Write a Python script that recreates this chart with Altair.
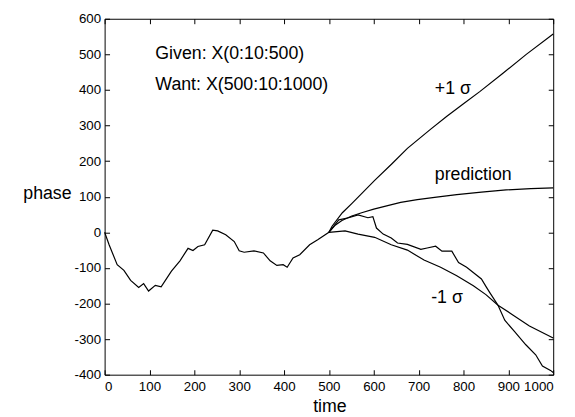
import altair as alt
import pandas as pd

# ---- data ----
actual_t = [0, 10, 28, 43, 58, 76, 87, 98, 113, 126, 149, 168, 186, 197, 208, 223, 241, 252, 270,
            289, 300, 311, 333, 354, 369, 384, 398, 407, 420, 435, 457, 475, 500,
            522, 544, 565, 587, 598, 606, 621, 639, 653, 675, 705, 719, 738, 752, 774, 789, 807,
            826, 840, 851, 859, 877, 892, 914, 939, 961, 976, 994, 1000]
actual_v = [0, -35, -91, -107, -135, -155, -144, -165, -149, -153, -109, -80, -45, -51, -40, -35, 6, 4, -7,
            -26, -52, -56, -52, -58, -80, -93, -91, -98, -72, -63, -35, -21, 0,
            35, 41, 49, 41, 44, 12, -5, -16, -30, -34, -48, -44, -39, -53, -53, -85, -98,
            -117, -131, -154, -170, -205, -247, -279, -316, -344, -376, -388, -394]

pred_t = [500, 514, 529, 551, 573, 600, 631, 660, 697, 740, 785, 840, 895, 950, 1000]
pred_v = [0, 20, 33, 46, 55, 65, 75, 84, 92, 99, 106, 113, 119, 123, 125]

plus_t = [500, 507, 530, 552, 602, 640, 675, 727, 763, 800, 837, 888, 940, 1000]
plus_v = [0, 17, 55, 82, 146, 192, 236, 290, 326, 361, 396, 447, 500, 557]

minus_t = [500, 536, 565, 602, 639, 675, 712, 749, 785, 822, 850, 877, 910, 947, 1000]
minus_v = [0, 4, -5, -14, -35, -50, -78, -98, -122, -150, -175, -205, -232, -263, -297]

note_text = ["Given: X(0:10:500)", "Want: X(500:10:1000)", "+1 σ", "prediction", "-1 σ"]
note_t = [113, 113, 736, 736, 728]
note_v = [487, 400, 390, 148, -200]

x_ticks = [0, 100, 200, 300, 400, 500, 600, 700, 800, 900, 1000]
y_ticks = [-400, -300, -200, -100, 0, 100, 200, 300, 400, 500, 600]

# ---- build table ----
rows = []
for name, ts, vs in [("actual", actual_t, actual_v), ("prediction", pred_t, pred_v),
                     ("plus", plus_t, plus_v), ("minus", minus_t, minus_v)]:
    for t, v in zip(ts, vs):
        rows.append({"series": name, "t": t, "v": v})
df = pd.DataFrame(rows)
notes = pd.DataFrame({"label": note_text, "t": note_t, "v": note_v})

W, H = 455, 361
FONT = "Liberation Sans"
xs = alt.Scale(domain=[0, 1000], nice=False, zero=False)
ys = alt.Scale(domain=[-400, 600], nice=False, zero=False)

base = alt.Chart(df)

lines = base.mark_line(color="black", strokeWidth=1.2).encode(
    x=alt.X("t:Q", scale=xs, axis=alt.Axis(
        orient="bottom", values=x_ticks, grid=False, domain=False, ticks=False, tickSize=0,
        labelExpr="'' + datum.value",
        labelPadding=5, labelFontSize=13.5, labelColor="black", labelFont=FONT,
        title="time", titleFont=FONT, titleFontSize=18, titleFontWeight="normal",
        titleColor="black", titleAlign="center", titleBaseline="alphabetic",
        titleX=228, titleY=37)),
    y=alt.Y("v:Q", scale=ys, axis=alt.Axis(
        orient="left", values=y_ticks, grid=False, domain=False, ticks=False, tickSize=0,
        labelExpr="'' + datum.value",
        labelPadding=4, labelFontSize=13.5, labelColor="black", labelFont=FONT,
        title="phase", titleFont=FONT, titleFontSize=18, titleFontWeight="normal",
        titleColor="black", titleAngle=0, titleAlign="left", titleBaseline="alphabetic",
        titleX=-83, titleY=182)),
    detail="series:N",
)

def tick_axis(orient, vals, off):
    return alt.Axis(orient=orient, values=vals, offset=off, labels=False, domain=False,
                    grid=False, ticks=True, tickSize=5, tickColor="black", tickWidth=1, title=None)

ticks_a = base.mark_line(opacity=0).encode(
    x=alt.X("t:Q", scale=xs, axis=tick_axis("top", x_ticks, -H)),
    y=alt.Y("v:Q", scale=ys, axis=tick_axis("right", y_ticks, -W)),
    detail="series:N",
)
ticks_b = base.mark_line(opacity=0).encode(
    x=alt.X("t:Q", scale=xs, axis=tick_axis("bottom", x_ticks, -H)),
    y=alt.Y("v:Q", scale=ys, axis=tick_axis("left", y_ticks, -W)),
    detail="series:N",
)

text = alt.Chart(notes).mark_text(
    align="left", baseline="alphabetic", fontSize=18, font=FONT, color="black"
).encode(
    x=alt.X("t:Q", scale=xs, axis=None),
    y=alt.Y("v:Q", scale=ys, axis=None),
    text="label:N",
)

chart = alt.layer(lines, ticks_a, ticks_b, text).resolve_axis(
    x="independent", y="independent"
).properties(
    width=W, height=H,
    autosize=alt.AutoSizeParams(type="none"),
    padding={"left": 98, "top": 8, "right": 14, "bottom": 40},
    background="white",
).configure_view(stroke="black", strokeWidth=1)

chart.save("out.html", embed_options={"renderer": "svg", "actions": False})
